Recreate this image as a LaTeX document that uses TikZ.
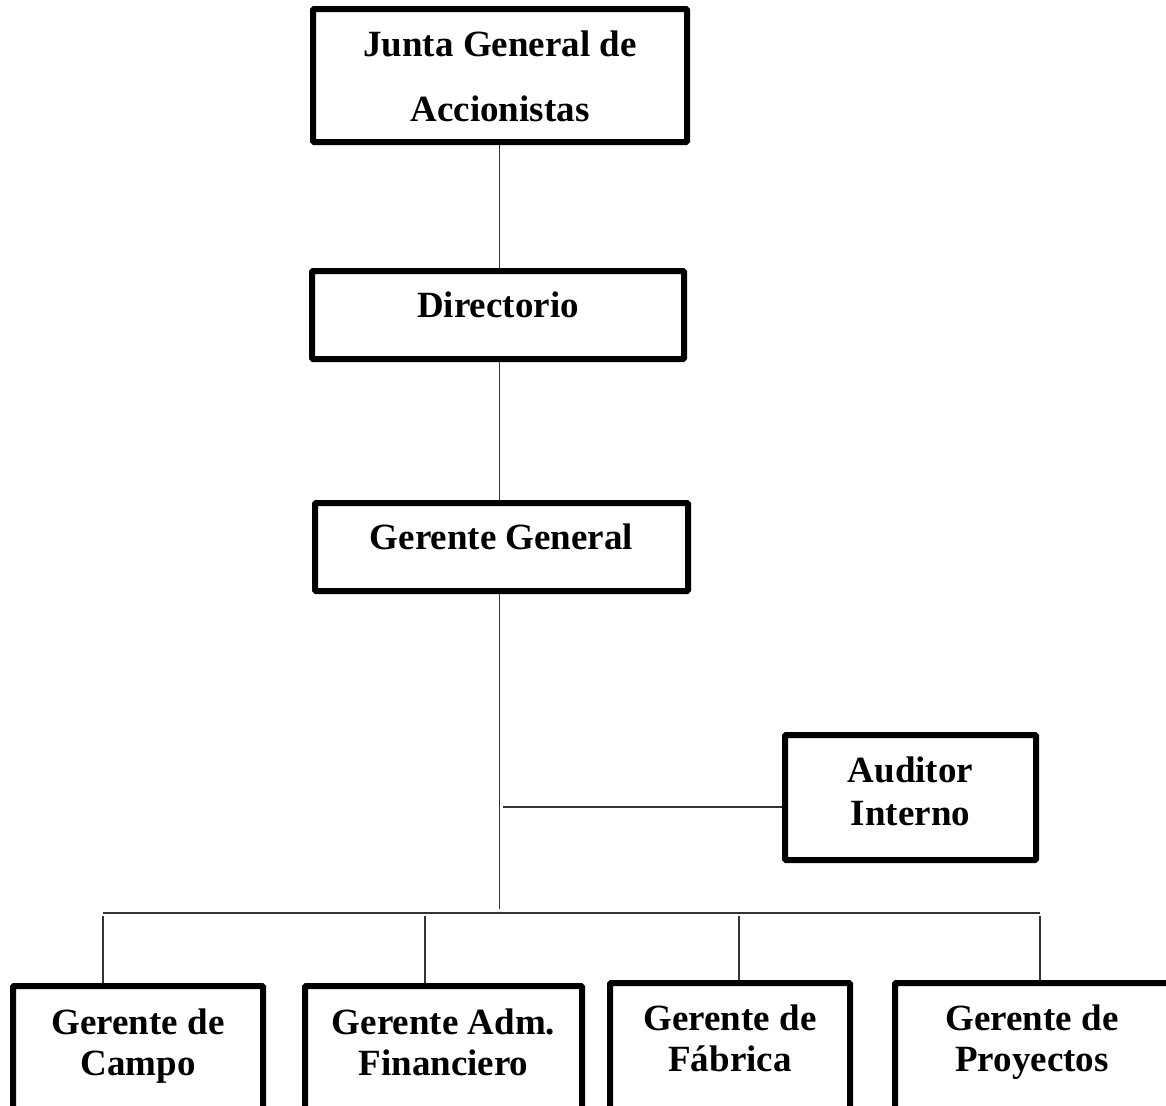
\documentclass[tikz,border=0pt]{standalone}
\usepackage{fontspec}
\setmainfont{Liberation Serif}

\begin{document}
\begin{tikzpicture}[x=0.5pt,y=-0.5pt,
  box/.style={draw, line width=3pt, rounded corners=0.6pt, inner sep=0pt},
  boxtext/.style={anchor=north, align=center, inner sep=0pt,
    font=\fontsize{18.5}{20.6}\selectfont\bfseries},
  link/.style={line width=0.7pt, black!80}]
  \useasboundingbox (0,0) rectangle (1166,1105);

  % Boxes
  \node[box, minimum width=187pt, minimum height=66.5pt] (junta) at (500,75.5) {};
  \node[box, minimum width=186pt, minimum height=44pt] (dir) at (498,315) {};
  \node[box, minimum width=186.5pt, minimum height=44pt] (gergen) at (501.5,547) {};
  \node[box, minimum width=125.5pt, minimum height=62.5pt] (auditor) at (910.5,797.5) {};
  \node[box, minimum width=125pt, minimum height=72pt] (campo) at (138,1058) {};
  \node[box, minimum width=138.5pt, minimum height=72pt] (adm) at (443.5,1058) {};
  \node[box, minimum width=120pt, minimum height=73.5pt] (fabrica) at (730,1056.5) {};
  \node[box, minimum width=137pt, minimum height=73.5pt] (proy) at (1032,1056.5) {};

  % Texts
  \node[boxtext, font=\fontsize{18.5}{32.5}\selectfont\bfseries] (tjunta) at (500,30) {Junta General de\\Accionistas};
  \node[boxtext] (tdir) at (498,291) {Directorio};
  \node[boxtext] (tgergen) at (501.5,523) {Gerente General};
  \node[boxtext, font=\fontsize{18.5}{21.5}\selectfont\bfseries] (tauditor) at (910.5,756) {Auditor\\Interno};
  \node[boxtext] (tcampo) at (138,1008) {Gerente de\\Campo};
  \node[boxtext] (tadm) at (443.5,1008) {Gerente Adm.\\Financiero};
  \node[boxtext] (tfabrica) at (730,1004) {Gerente de\\Fábrica};
  \node[boxtext] (tproy) at (1032,1004) {Gerente de\\Proyectos};

  % Connection points
  \coordinate (busM) at (499.5,909);
  \coordinate (busL) at (103,913);
  \coordinate (busR) at (1040,913);
  \coordinate (audj) at (503,807);
  \coordinate (d1) at (103,916);
  \coordinate (d2) at (425,916);
  \coordinate (d3) at (739,916);
  \coordinate (d4) at (1040,916);

  % Lines
  \draw[link] (busM |- junta.south) -- (busM |- dir.north);
  \draw[link] (busM |- dir.south) -- (busM |- gergen.north);
  \draw[link] (busM |- gergen.south) -- (busM);
  \draw[link] (audj) -- (audj -| auditor.west);
  \draw[link] (busL) -- (busR);
  \draw[link] (d1) -- (d1 |- campo.north);
  \draw[link] (d2) -- (d2 |- adm.north);
  \draw[link] (d3) -- (d3 |- fabrica.north);
  \draw[link] (d4) -- (d4 |- proy.north);
\end{tikzpicture}
\end{document}
